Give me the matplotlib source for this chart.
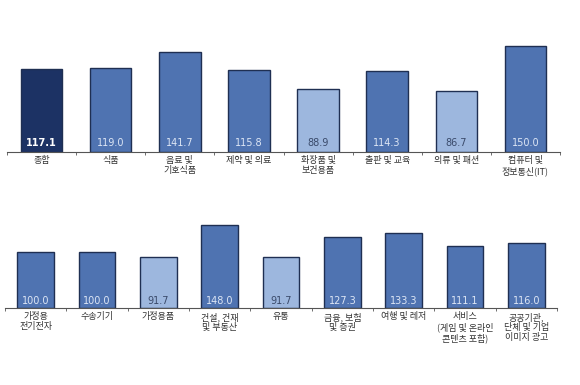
import matplotlib
matplotlib.use("Agg")
import matplotlib.pyplot as plt
import numpy as np

plt.rcParams['font.family'] = ['Noto Sans CJK KR', 'DejaVu Sans']

# top row
top_labels = ["종합", "식품", "음료 및\n기호식품", "제약 및 의료", "화장품 및\n보건용품",
              "출판 및 교육", "의류 및 패션", "컴퓨터 및\n정보통신(IT)"]
top_values = [117.1, 119.0, 141.7, 115.8, 88.9, 114.3, 86.7, 150.0]

# bottom row
bot_labels = ["가정용\n전기전자", "수송기기", "가정용품", "건설, 건재\n및 부동산", "유통",
              "금융, 보험\n및 증권", "여행 및 레저", "서비스\n(게임 및 온라인\n콘텐츠 포함)",
              "공공기관,\n단체 및 기업\n이미지 광고"]
bot_values = [100.0, 100.0, 91.7, 148.0, 91.7, 127.3, 133.3, 111.1, 116.0]

DARK = "#1c3264"
MID = "#4f73b1"
LIGHT = "#9db7de"
EDGE = "#1f2f52"

W, H = 580, 385
fig = plt.figure(figsize=(W / 100, H / 100), dpi=100)


def bar_color(i, v, first_dark):
    if first_dark and i == 0:
        return DARK
    return LIGHT if v < 100 else MID


def draw(ax, labels, values, first_dark, lab_off):
    x = np.arange(len(values))
    colors = [bar_color(i, v, first_dark) for i, v in enumerate(values)]
    ax.bar(x, values, width=0.6, color=colors, edgecolor=EDGE, linewidth=1.0, zorder=2)
    for i, v in enumerate(values):
        if first_dark and i == 0:
            tc, fw = "white", "bold"
        elif v < 100:
            tc, fw = "#3a4a6a", "normal"
        else:
            tc, fw = "#dde6f5", "normal"
        ax.annotate(f"{v:.1f}", (i, 0), xytext=(0, lab_off), textcoords="offset points",
                    ha="center", va="center", fontsize=7, color=tc, fontweight=fw,
                    fontfamily="DejaVu Sans")
    ax.set_xlim(-0.5, len(values) - 0.5)
    ax.set_yticks([])
    for s in ["top", "right", "left"]:
        ax.spines[s].set_visible(False)
    ax.spines["bottom"].set_color("#555555")
    ax.spines["bottom"].set_linewidth(0.8)
    ax.set_xticks(x)
    ax.set_xticklabels(labels, fontsize=6.5, color="#333333", linespacing=1.15)
    ax.tick_params(axis="x", which="major", length=0, pad=3)
    ax.set_xticks(np.arange(len(values) + 1) - 0.5, minor=True)
    ax.tick_params(axis="x", which="minor", length=2, direction="out", color="#555555")


# top axes: baseline at y=152 px, scale ~0.707 px per unit
ax1 = fig.add_axes([7 / W, (H - 152) / H, 553 / W, 120 / H])
ax1.set_ylim(0, 120 / 0.707)
draw(ax1, top_labels, top_values, True, 6.5)

# bottom axes: baseline at y=308 px, scale ~0.56 px per unit
ax2 = fig.add_axes([5 / W, (H - 308) / H, 552 / W, 100 / H])
ax2.set_ylim(0, 100 / 0.56)
draw(ax2, bot_labels, bot_values, False, 5)

fig.savefig("out.png", dpi=100)
